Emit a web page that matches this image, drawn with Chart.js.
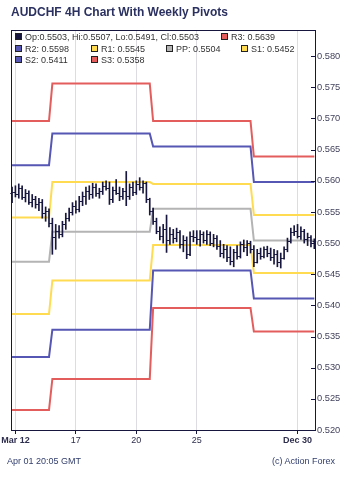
<!DOCTYPE html>
<html>
<head>
<meta charset="utf-8">
<script src="https://cdn.jsdelivr.net/npm/chart.js@4/dist/chart.umd.min.js"></script>
<style>
    body { margin: 0; background: #fff; }
    #wrap { position: relative; width: 350px; height: 481px; font-family: "Liberation Sans", Arial, sans-serif; }
    #chart { position: absolute; left: 0; top: 0; }
    .title { position: absolute; left: 11px; top: 5px; font-size: 12px; font-weight: bold; color: #2b3160; white-space: nowrap; }
    .leg { position: absolute; font-size: 9px; line-height: 11px; color: #333; white-space: nowrap; }
    .sw { display: inline-block; width: 5px; height: 5px; border: 1px solid #222; margin-right: 3px; vertical-align: 0px; }
    .foot { position: absolute; top: 456px; font-size: 9px; color: #34406e; white-space: nowrap; }
</style>
</head>
<body>
<div id="wrap">
    <canvas id="chart" width="350" height="481"></canvas>
    <div class="title">AUDCHF 4H Chart With Weekly Pivots</div>
    <div class="foot" style="left:7px">Apr 01 20:05 GMT</div>
    <div class="foot" style="right:15px">(c) Action Forex</div>
</div>
<script>
// 4H bars
const opens = [
    0.5580, 0.5582, 0.5578, 0.5588, 0.5574, 0.5580, 0.5566, 0.5570, 0.5562, 0.5566, 0.5548, 0.5552,
    0.5532, 0.5510, 0.5520, 0.5515, 0.5530, 0.5540, 0.5550, 0.5560, 0.5555, 0.5568, 0.5575, 0.5584, 0.5578, 0.5590,
    0.5580, 0.5584, 0.5592, 0.5588, 0.5570, 0.5585, 0.5580, 0.5575, 0.5584, 0.5575, 0.5590, 0.5582, 0.5595, 0.5590,
    0.5596, 0.5570,
    0.5552, 0.5535, 0.5520, 0.5512, 0.5522, 0.5505, 0.5515, 0.5508, 0.5518, 0.5498, 0.5505, 0.5482, 0.5512, 0.5510,
    0.5506, 0.5514, 0.5505, 0.5515, 0.5500, 0.5508, 0.5496, 0.5484, 0.5490, 0.5478, 0.5472, 0.5486, 0.5480, 0.5498,
    0.5494, 0.5500,
    0.5490, 0.5470, 0.5484, 0.5480, 0.5490, 0.5484, 0.5478, 0.5482, 0.5470, 0.5476, 0.5490, 0.5504, 0.5518, 0.5520,
    0.5512, 0.5520, 0.5506, 0.5510, 0.5503,
];
const highs = [
    0.5590, 0.5592, 0.5595, 0.5592, 0.5586, 0.5584, 0.5578, 0.5575, 0.5572, 0.5570, 0.5558, 0.5555,
    0.5540, 0.5530, 0.5528, 0.5535, 0.5548, 0.5556, 0.5565, 0.5568, 0.5575, 0.5582, 0.5590, 0.5592, 0.5596, 0.5595,
    0.5588, 0.5598, 0.5600, 0.5598, 0.5590, 0.5602, 0.5590, 0.5588, 0.5615, 0.5595, 0.5598, 0.5600, 0.5605, 0.5600,
    0.5598, 0.5572,
    0.5556, 0.5540, 0.5526, 0.5530, 0.5545, 0.5525, 0.5522, 0.5524, 0.5520, 0.5512, 0.5510, 0.5518, 0.5520, 0.5520,
    0.5520, 0.5518, 0.5520, 0.5518, 0.5514, 0.5512, 0.5504, 0.5498, 0.5496, 0.5494, 0.5490, 0.5496, 0.5502, 0.5505,
    0.5504, 0.5503,
    0.5496, 0.5490, 0.5492, 0.5494, 0.5495, 0.5492, 0.5490, 0.5488, 0.5484, 0.5494, 0.5508, 0.5524, 0.5528, 0.5530,
    0.5526, 0.5522, 0.5516, 0.5512, 0.5507,
];
const lows = [
    0.5565, 0.5574, 0.5572, 0.5570, 0.5566, 0.5562, 0.5558, 0.5556, 0.5552, 0.5540, 0.5535, 0.5526,
    0.5482, 0.5490, 0.5508, 0.5510, 0.5522, 0.5535, 0.5545, 0.5548, 0.5550, 0.5560, 0.5562, 0.5570, 0.5572, 0.5575,
    0.5572, 0.5578, 0.5585, 0.5562, 0.5565, 0.5578, 0.5568, 0.5570, 0.5560, 0.5570, 0.5576, 0.5578, 0.5585, 0.5580,
    0.5565, 0.5545,
    0.5530, 0.5515, 0.5505, 0.5500, 0.5485, 0.5498, 0.5500, 0.5502, 0.5492, 0.5486, 0.5475, 0.5480, 0.5502, 0.5498,
    0.5495, 0.5500, 0.5498, 0.5496, 0.5494, 0.5490, 0.5478, 0.5476, 0.5470, 0.5465, 0.5462, 0.5474, 0.5476, 0.5486,
    0.5480, 0.5484,
    0.5462, 0.5468, 0.5474, 0.5476, 0.5478, 0.5472, 0.5466, 0.5462, 0.5460, 0.5474, 0.5486, 0.5500, 0.5512, 0.5508,
    0.5506, 0.5500, 0.5496, 0.5494, 0.5491,
];
const closes = [
    0.5582, 0.5578, 0.5588, 0.5574, 0.5580, 0.5566, 0.5570, 0.5562, 0.5566, 0.5548, 0.5552, 0.5532,
    0.5510, 0.5520, 0.5515, 0.5530, 0.5540, 0.5550, 0.5560, 0.5555, 0.5568, 0.5575, 0.5584, 0.5578, 0.5590, 0.5580,
    0.5584, 0.5592, 0.5588, 0.5570, 0.5585, 0.5580, 0.5575, 0.5584, 0.5575, 0.5590, 0.5582, 0.5595, 0.5590, 0.5596,
    0.5570, 0.5552,
    0.5535, 0.5520, 0.5512, 0.5522, 0.5505, 0.5515, 0.5508, 0.5518, 0.5498, 0.5505, 0.5482, 0.5512, 0.5510, 0.5506,
    0.5514, 0.5505, 0.5515, 0.5500, 0.5508, 0.5496, 0.5484, 0.5490, 0.5478, 0.5472, 0.5486, 0.5480, 0.5498, 0.5494,
    0.5500, 0.5490,
    0.5470, 0.5484, 0.5480, 0.5490, 0.5484, 0.5478, 0.5482, 0.5470, 0.5476, 0.5490, 0.5504, 0.5518, 0.5520, 0.5512,
    0.5520, 0.5506, 0.5510, 0.5500, 0.5503,
];

// first bar of each week
const weekStarts = [0, 12, 42, 72];

// weekly pivot levels, one value per week
const pivotR3 = [0.5696, 0.5756, 0.5696, 0.5639];
const pivotR2 = [0.5625, 0.5676, 0.5655, 0.5598];
const pivotR1 = [0.5541, 0.5598, 0.5595, 0.5545];
const pivotPP = [0.5470, 0.5518, 0.5555, 0.5504];
const pivotS1 = [0.5386, 0.5440, 0.5497, 0.5452];
const pivotS2 = [0.5317, 0.5361, 0.5456, 0.5411];
const pivotS3 = [0.5232, 0.5282, 0.5396, 0.5358];

const xTickBars = [1, 19, 37, 55, 85];
const xTickLabels = ['Mar 12', '17', '20', '25', 'Dec 30'];
const yTicks = [0.520, 0.525, 0.530, 0.535, 0.540, 0.545, 0.550, 0.555, 0.560, 0.565, 0.570, 0.575, 0.580];

const ink = '#16163e';
const red = '#e45d5d';
const blue = '#5656b4';
const yellow = '#ffdb52';
const grey = '#b4b4b4';

const pivots = [
    { name: 'R3', values: pivotR3, color: red },
    { name: 'R2', values: pivotR2, color: blue },
    { name: 'R1', values: pivotR1, color: yellow },
    { name: 'PP', values: pivotPP, color: grey },
    { name: 'S1', values: pivotS1, color: yellow },
    { name: 'S2', values: pivotS2, color: blue },
    { name: 'S3', values: pivotS3, color: red },
];

function weekOf(bar) {
    let w = 0;
    weekStarts.forEach((start, idx) => {
        if (bar >= start) w = idx;
    });
    return w;
}

function pivotSeries(values) {
    return closes.map((_, i) => ({ x: i, y: values[weekOf(i)] }));
}

// legend drawn as html, laid out like the original
const wrap = document.getElementById('wrap');
function legendItem(left, midY, color, text) {
    const el = document.createElement('div');
    el.className = 'leg';
    el.style.left = left + 'px';
    el.style.top = (midY - 5.5) + 'px';
    el.innerHTML = `<span class="sw" style="background:${color}"></span>${text}`;
    wrap.appendChild(el);
}
const last = closes.length - 1;
const fmt = (v) => v.toFixed(4);
const lastWeek = weekStarts.length - 1;
const legendSpots = { R3: [221, 37.5], R2: [15, 49], R1: [91, 49], PP: [166, 49], S1: [241, 49], S2: [15, 60.5], S3: [91, 60.5] };
legendItem(15, 37.5, ink, `Op:${fmt(opens[last])}, Hi:${fmt(highs[last])}, Lo:${fmt(lows[last])}, Cl:${fmt(closes[last])}`);
pivots.forEach((p) => {
    const [lx, ly] = legendSpots[p.name];
    legendItem(lx, ly, p.color, `${p.name}: ${fmt(p.values[lastWeek])}`);
});

// open / close ticks and the frame
const ohlcTicks = {
    id: 'ohlcTicks',
    afterDatasetsDraw(chart) {
        const { ctx, scales: { x, y } } = chart;
        ctx.save();
        ctx.strokeStyle = ink;
        ctx.lineWidth = 1;
        ctx.beginPath();
        closes.forEach((c, i) => {
            const px = x.getPixelForValue(i);
            const po = Math.round(y.getPixelForValue(opens[i])) + 0.5;
            const pc = Math.round(y.getPixelForValue(c)) + 0.5;
            ctx.moveTo(px - 1.8, po);
            ctx.lineTo(px, po);
            ctx.moveTo(px, pc);
            ctx.lineTo(px + 1.8, pc);
        });
        ctx.stroke();
        ctx.restore();
    },
    afterDraw(chart) {
        const { ctx, chartArea: a, scales: { y } } = chart;
        ctx.save();
        ctx.strokeStyle = ink;
        ctx.lineWidth = 1;
        ctx.strokeRect(Math.round(a.left) + 0.5, Math.round(a.top) + 0.5, Math.round(a.right - a.left), Math.round(a.bottom - a.top));
        ctx.beginPath();
        yTicks.forEach((v) => {
            const py = Math.round(y.getPixelForValue(v)) + 0.5;
            ctx.moveTo(a.right - 4, py);
            ctx.lineTo(a.right, py);
        });
        ctx.stroke();
        ctx.restore();
    },
};

new Chart(document.getElementById('chart'), {
    type: 'line',
    data: {
        datasets: [
            {
                type: 'bar',
                data: closes.map((_, i) => ({ x: i, y: [lows[i], highs[i]] })),
                backgroundColor: ink,
                borderWidth: 0,
                barThickness: 1,
                order: 0,
            },
            ...pivots.map((p) => ({
                data: pivotSeries(p.values),
                borderColor: p.color,
                borderWidth: 2,
                pointRadius: 0,
                tension: 0,
                order: 1,
            })),
        ],
    },
    options: {
        responsive: false,
        animation: false,
        layout: { padding: { left: 11, top: 30, right: 0, bottom: 31 } },
        plugins: { legend: { display: false }, tooltip: { enabled: false } },
        scales: {
            x: {
                type: 'linear',
                min: -0.3,
                max: 90.2,
                offset: false,
                grid: { color: '#dcdce2', lineWidth: 1, tickLength: 4, tickColor: ink, offset: false },
                border: { display: false },
                afterBuildTicks: (scale) => {
                    scale.ticks = xTickBars.map((v) => ({ value: v }));
                },
                afterFit: (scale) => {
                    scale.height = 20;
                },
                ticks: {
                    autoSkip: false,
                    maxRotation: 0,
                    padding: 1,
                    color: '#2e2e4e',
                    font: (ctx) => ({
                        family: '"Liberation Sans", Arial, sans-serif',
                        size: 9,
                        weight: /[a-z]/i.test(xTickLabels[ctx.index] || '') ? 'bold' : 'normal',
                    }),
                    callback: (v) => xTickLabels[xTickBars.indexOf(v)],
                },
            },
            y: {
                position: 'right',
                min: 0.520,
                max: 0.5842,
                grid: { drawOnChartArea: false, drawTicks: false },
                border: { display: false },
                afterBuildTicks: (scale) => {
                    scale.ticks = yTicks.map((v) => ({ value: v }));
                },
                afterFit: (scale) => {
                    scale.width = 35;
                },
                ticks: {
                    padding: 2,
                    color: '#44445e',
                    font: { family: '"Liberation Sans", Arial, sans-serif', size: 9.3 },
                    callback: (v) => v.toFixed(3),
                },
            },
        },
    },
    plugins: [ohlcTicks],
});
</script>
</body>
</html>
